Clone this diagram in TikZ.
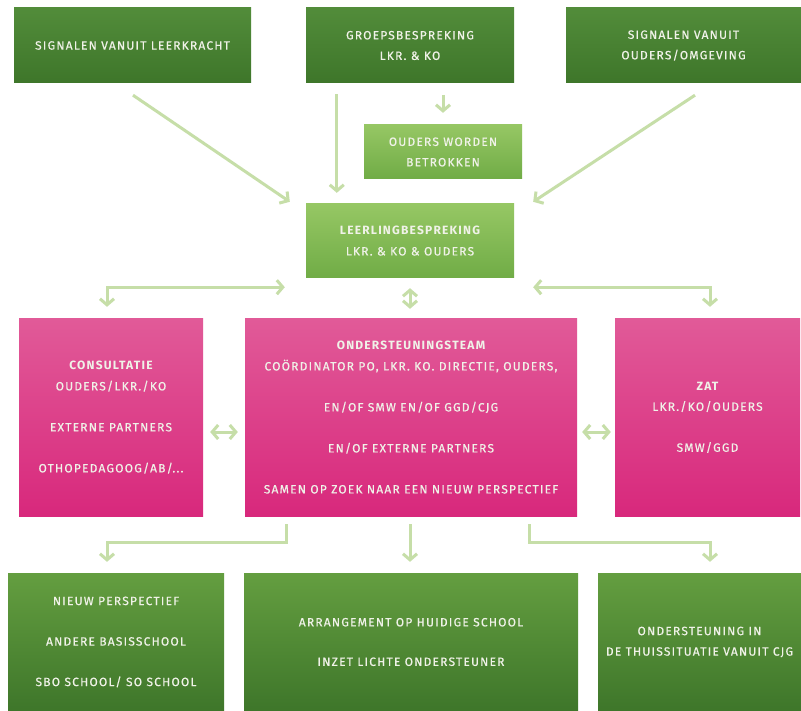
\documentclass[tikz,border=0pt]{standalone}
\usepackage{fontspec}
\setmainfont{Fira Sans}[LetterSpace=10, UprightFeatures={FakeBold=0.5}]
\usetikzlibrary{arrows.meta,calc}
\definecolor{dkgA}{RGB}{82,140,58}
\definecolor{dkgB}{RGB}{62,118,42}
\definecolor{ltgA}{RGB}{150,199,100}
\definecolor{ltgB}{RGB}{112,172,70}
\definecolor{pkA}{RGB}{225,90,152}
\definecolor{pkB}{RGB}{216,40,124}
\definecolor{btgA}{RGB}{100,158,64}
\definecolor{btgB}{RGB}{62,118,42}
\definecolor{arrc}{RGB}{198,222,168}
\definecolor{txt}{RGB}{240,242,232}
\tikzset{
  box/.style={rectangle, inner sep=0pt, draw=none, text=txt, align=center,
    font=\fontsize{12}{20.5}\selectfont},
  topbox/.style={box, top color=dkgA, bottom color=dkgB},
  lightbox/.style={box, top color=ltgA, bottom color=ltgB},
  pinkbox/.style={box, top color=pkA, bottom color=pkB},
  botbox/.style={box, top color=btgA, bottom color=btgB},
  arr/.style={draw=arrc, line width=3pt, -{Straight Barb[length=6pt,width=14pt]}},
  darr/.style={draw=arrc, line width=3pt, {Straight Barb[length=6pt,width=14pt]}-{Straight Barb[length=6pt,width=14pt]}},
}
\begin{document}
\begin{tikzpicture}[x=1pt,y=-1pt]
\path[use as bounding box, fill=white] (0,0) rectangle (801,711);
% top row
\node[topbox, minimum width=237, minimum height=75] (sl) at (132.5,45.5) {SIGNALEN VANUIT LEERKRACHT};
\node[topbox, minimum width=208, minimum height=75] (gb) at (410,45.5) {GROEPSBESPREKING\\LKR. \& KO};
\node[topbox, minimum width=235, minimum height=75] (so) at (683.5,45.5) {SIGNALEN VANUIT\\OUDERS/OMGEVING};
\node[lightbox, minimum width=158, minimum height=54] (ow) at (443,152) {OUDERS WORDEN\\BETROKKEN};
\node[lightbox, minimum width=208, minimum height=74] (lb) at (410,241) {{\bfseries LEERLINGBESPREKING}\\LKR. \& KO \& OUDERS};
% pink row
\node[pinkbox, minimum width=184, minimum height=197] (co) at (111,417.5)
  {{\bfseries CONSULTATIE}\\OUDERS/LKR./KO\\[20.5pt]EXTERNE PARTNERS\\[20.5pt]OTHOPEDAGOOG/AB/...};
\node[pinkbox, minimum width=332, minimum height=197] (ot) at (411,417.5)
  {{\bfseries ONDERSTEUNINGSTEAM}\\CO\"ORDINATOR PO, LKR. KO. DIRECTIE, OUDERS,\\[20.5pt]EN/OF SMW EN/OF GGD/CJG\\[20.5pt]EN/OF EXTERNE PARTNERS\\[20.5pt]SAMEN OP ZOEK NAAR EEN NIEUW PERSPECTIEF};
\node[pinkbox, minimum width=185, minimum height=197] (zat) at (707.5,417.5)
  {{\bfseries ZAT}\\LKR./KO/OUDERS\\[20.5pt]SMW/GGD};
% bottom row
\node[botbox, minimum width=216, minimum height=138] (b1) at (116,642)
  {NIEUW PERSPECTIEF\\[20pt]ANDERE BASISSCHOOL\\[20pt]SBO SCHOOL/ SO SCHOOL};
\node[botbox, minimum width=334, minimum height=138] (b2) at (411,642)
  {ARRANGEMENT OP HUIDIGE SCHOOL\\[19pt]INZET LICHTE ONDERSTEUNER};
\node[botbox, minimum width=203, minimum height=138] (b3) at (699.5,642)
  {ONDERSTEUNING IN\\DE THUISSITUATIE VANUIT CJG};
% connectors
\draw[arr] ($(sl.south)+(0.5,12)$) -- ($(lb.north west)+(-16,-2)$);
\draw[arr] ($(gb.south west)+(31,11)$) -- ($(lb.north west)+(31,-11)$);
\draw[arr] ($(ow.north)+(0,-30)$) -- ($(ow.north)+(0,-12)$);
\draw[arr] ($(so.south)+(11.5,12)$) -- ($(lb.north east)+(19,-2)$);
\draw[darr] ($(co.north)+(-4,-12)$) |- ($(lb.south west)+(-21,9)$);
\draw[darr] ($(zat.north)+(2.5,-12)$) |- ($(lb.south east)+(19,9)$);
\draw[darr] ($(lb.south)+(0,10)$) -- ($(lb.south |- ot.north)+(0,-10)$);
\draw[darr] ($(co.east)+(7,14.5)$) -- ($(ot.west)+(-7,14.5)$);
\draw[darr] ($(ot.east)+(5,14.5)$) -- ($(zat.west)+(-4,14.5)$);
\draw[arr] ($(ot.south west)+(42,8)$) -- ++(0,18) -| ($(b1.north)+(-9,-11)$);
\draw[arr] ($(ot.south)+(-1,8)$) -- ($(b2.north)+(-1,-11)$);
\draw[arr] ($(ot.south west)+(285,8)$) -- ++(0,18) -| ($(b3.north)+(10.5,-11)$);
\end{tikzpicture}
\end{document}
